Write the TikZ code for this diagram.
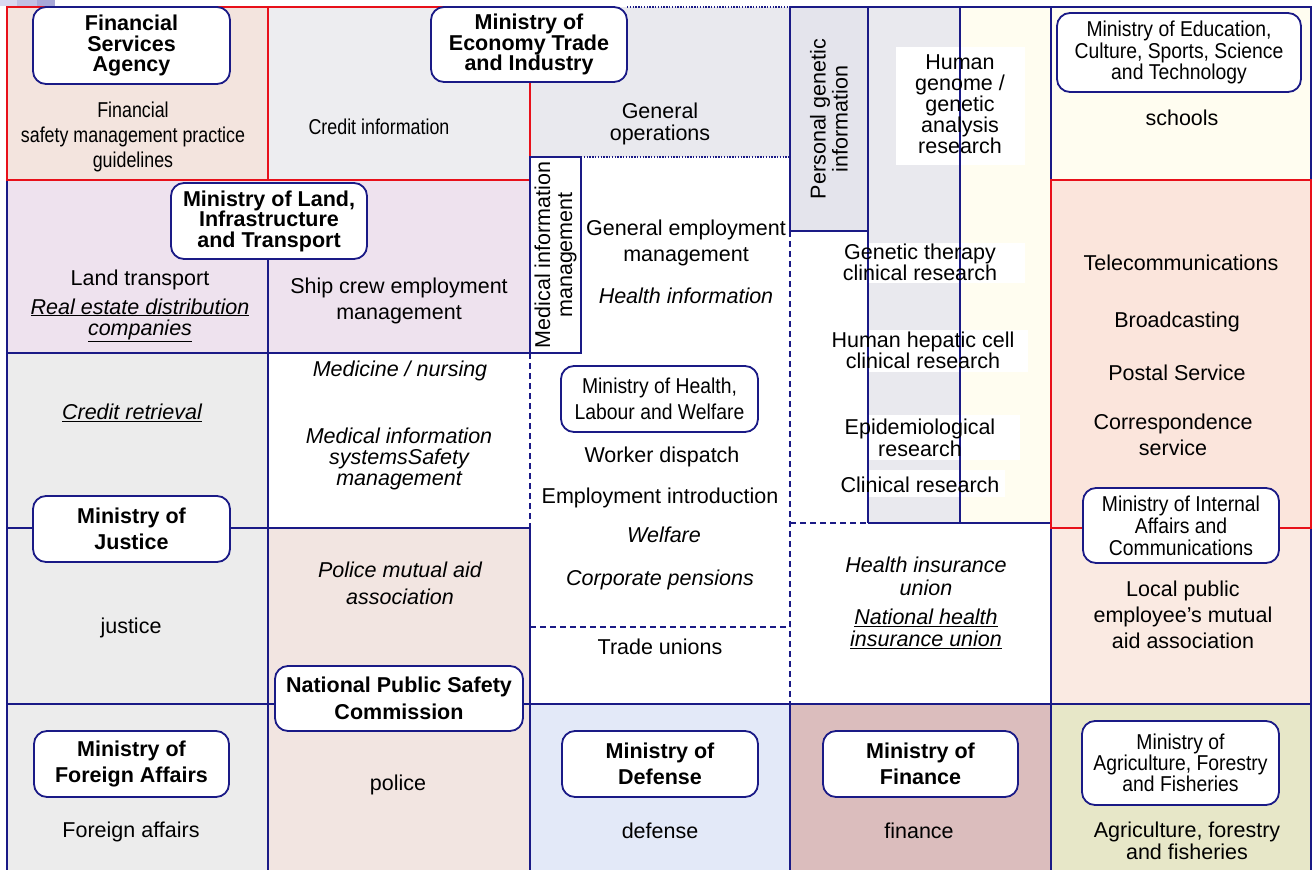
\documentclass[tikz,border=0pt]{standalone}
\usepackage{fontspec}
\setmainfont{Liberation Sans}
\newfontfamily\narrowA[FakeStretch=0.83]{Liberation Sans}
\newfontfamily\narrowB[FakeStretch=0.9]{Liberation Sans}
\definecolor{navy}{HTML}{1A1A86}
\definecolor{redb}{HTML}{E8101A}
\definecolor{cpeach}{HTML}{F3E4DE}
\definecolor{cgrayA}{HTML}{EDEDF0}
\definecolor{cgrayB}{HTML}{E9E9EE}
\definecolor{cgrayC}{HTML}{E4E4EC}
\definecolor{cgrayD}{HTML}{ECECEC}
\definecolor{cyellow}{HTML}{FFFDF0}
\definecolor{ctele}{HTML}{FBE5DC}
\definecolor{clocal}{HTML}{FAEAE2}
\definecolor{clav}{HTML}{EEE2EE}
\definecolor{cpolice}{HTML}{F2E5E1}
\definecolor{cdef}{HTML}{E3E9F8}
\definecolor{cfin}{HTML}{DBBDBD}
\definecolor{cagri}{HTML}{E7E7C8}
\definecolor{decoA}{HTML}{D8D8F0}
\definecolor{decoB}{HTML}{C0C0E4}
\definecolor{decoC}{HTML}{A8A8D8}
\tikzset{
  lbl/.style={align=center, inner sep=0pt, font=\fontsize{21.5}{21}\selectfont},
  lblbs/.style={align=center, inner sep=0pt, font=\fontsize{21.5}{#1}\selectfont},
  ital/.style={align=center, inner sep=0pt, font=\itshape\fontsize{21.5}{#1}\selectfont},
  narA/.style={align=center, inner sep=0pt, font=\narrowA\fontsize{21.5}{#1}\selectfont},
  ministry/.style={draw=navy, line width=1.8pt, rounded corners=13pt, fill=white,
    align=center, inner sep=0pt, font=\bfseries\fontsize{21.5}{#1}\selectfont},
  ministryN/.style={draw=navy, line width=1.8pt, rounded corners=13pt, fill=white,
    align=center, inner sep=0pt, font=\narrowB\fontsize{21.5}{#1}\selectfont},
  border/.style={draw=navy, line width=2pt},
  redline/.style={draw=redb, line width=2pt},
  dashline/.style={draw=navy, line width=1.6pt, dash pattern=on 6pt off 4pt},
  dotline/.style={draw=navy, line width=1.4pt, dash pattern=on 1.4pt off 1.4pt},
  vbox/.style={draw=navy, line width=2pt, rotate=90, align=center, inner sep=0pt,
    font=\fontsize{21.5}{22}\selectfont}
}
\begin{document}
\begin{tikzpicture}[x=1pt,y=-1pt]
\useasboundingbox (0,0) rectangle (1312,870);
\fill[white] (0,0) rectangle (1312,870);
% top-left decoration
\fill[decoA] (0,0) rectangle (17,6);
\fill[decoB] (17,0) rectangle (37,6);
\fill[decoC] (37,0) rectangle (55,6);
% cell fills
\fill[cpeach] (7,7) rectangle (268,180);
\fill[cgrayA] (268,7) rectangle (530,180);
\fill[cgrayB] (530,7) rectangle (790,157);
\fill[cgrayC] (790,7) rectangle (868,231);
\fill[cgrayB] (868,7) rectangle (960,523);
\fill[cyellow] (960,7) rectangle (1051,523);
\fill[cyellow] (1051,7) rectangle (1312,180);
\fill[ctele] (1051,180) rectangle (1312,528);
\fill[clocal] (1051,528) rectangle (1312,704);
\fill[clav] (7,180) rectangle (530,353);
\fill[cgrayD] (7,353) rectangle (268,528);
\fill[cgrayD] (7,528) rectangle (268,704);
\fill[cpolice] (268,528) rectangle (530,704);
\fill[cgrayD] (7,704) rectangle (268,872);
\fill[cpolice] (268,704) rectangle (530,872);
\fill[cdef] (530,704) rectangle (790,872);
\fill[cfin] (790,704) rectangle (1051,872);
\fill[cagri] (1051,704) rectangle (1312,872);
% white label backgrounds in the research column
\fill[white] (896,47) rectangle (1025,165);
\fill[white] (842,243) rectangle (1025,283);
\fill[white] (830,330) rectangle (1028,372);
\fill[white] (836,415) rectangle (1020,460);
\fill[white] (838,470) rectangle (1005,497);
% borders
\draw[border] (1051,7) rectangle (1311,180);
\draw[border] (1051,528) rectangle (1311,704);
\draw[border] (7,704) rectangle (268,872);
\draw[border] (268,704) rectangle (530,872);
\draw[border] (530,704) rectangle (790,872);
\draw[border] (790,704) rectangle (1051,872);
\draw[border] (1051,704) rectangle (1311,872);
\draw[border] (7,180) rectangle (530,353);
\draw[border] (268,259) -- (268,353);
\draw[border] (7,353) rectangle (268,528);
\draw[border] (7,528) rectangle (268,704);
\draw[border] (268,528) rectangle (530,704);
\draw[border] (868,7) -- (868,523);
\draw[border] (960,7) -- (960,523);
\draw[border] (790,7) -- (1051,7);
\draw[border] (868,523) -- (1051,523) -- (1051,528);
\draw[border] (530,704) -- (1051,704);
\draw[dashline] (790,523) -- (868,523);
\draw[dashline] (790,229) -- (868,229);
\draw[dashline] (790,231) -- (790,704);
\draw[dashline] (530,353) -- (530,528);
\draw[dashline] (530,627) -- (790,627);
\draw[dotline] (627,7) -- (790,7);
\draw[dotline] (581,157) -- (790,157);
\draw[redline] (1051,180) rectangle (1311,528);
\draw[redline] (7,7) rectangle (268,180);
\draw[redline] (268,7) -- (530,7);
\draw[redline] (530,82) -- (530,180);
\draw[redline] (268,180) -- (530,180);
% rotated boxes
\node[vbox, fill=cgrayC, minimum width=224pt, minimum height=78pt] (pgi) at (829,119) {Personal genetic\\information};
\node[vbox, fill=white, minimum width=196pt, minimum height=51pt] (mim) at (555.5,255) {Medical information\\management};
% ministry boxes
\node[ministry=20.5, minimum width=197pt, minimum height=77pt] (fsa) at (131.5,45.5) {Financial\\Services\\Agency};
\node[ministry=20.5, minimum width=196pt, minimum height=75pt] (meti) at (529,44.5) {Ministry of\\Economy Trade\\and Industry};
\node[ministryN=21.5, minimum width=244pt, minimum height=79pt] (mext) at (1179,52.5) {Ministry of Education,\\Culture, Sports, Science\\and Technology};
\node[ministry=20.5, minimum width=196pt, minimum height=76pt] (mlit) at (269,221) {Ministry of Land,\\Infrastructure\\and Transport};
\node[ministryN=26, minimum width=197pt, minimum height=66pt] (mhlw) at (659.5,399) {Ministry of Health,\\Labour and Welfare};
\node[ministryN=22, minimum width=196pt, minimum height=75pt] (mic) at (1181,525.5) {Ministry of Internal\\Affairs and\\Communications};
\node[ministry=26, minimum width=197pt, minimum height=66pt] (moj) at (131.5,529) {Ministry of\\Justice};
\node[ministry=27, minimum width=248pt, minimum height=65pt] (npsc) at (399,698.5) {National Public Safety\\Commission};
\node[ministry=26, minimum width=195pt, minimum height=66pt] (mofa) at (131.5,764) {Ministry of\\Foreign Affairs};
\node[ministry=26, minimum width=196pt, minimum height=66pt] (mod) at (660,764) {Ministry of\\Defense};
\node[ministry=26, minimum width=195pt, minimum height=66pt] (mof) at (920.5,764) {Ministry of\\Finance};
\node[ministryN=21, minimum width=197pt, minimum height=84pt] (maff) at (1180.5,763) {Ministry of\\Agriculture, Forestry\\and Fisheries};
% texts
\node[narA=25] (tfsaguide) at (133,137) {Financial\\safety management practice\\guidelines};
\node[narA=21] (tcredit) at (379,127) {Credit information};
\node[lblbs=22] (tgenops) at (660,124) {General\\operations};
\node[lblbs=21] (tgenome) at (960,104.5) {Human\\genome /\\genetic\\analysis\\research};
\node[lbl] (tschools) at (1182,118) {schools};
\node[lbl] (tland) at (140,280) {Land transport};
\node[ital=21] (treal) at (140,320) {\underline{Real estate distribution}\\\underline{companies}};
\node[lblbs=26] (tship) at (399,301) {Ship crew employment\\management};
\node[lblbs=26] (tgenemp) at (686,243) {General employment\\management};
\node[ital=21] (thealth) at (686,296) {Health information};
\node[lblbs=20] (tgenther) at (920,262) {Genetic therapy\\clinical research};
\node[lbl] (ttele) at (1181,263) {Telecommunications};
\node[lbl] (tbroad) at (1177,322) {Broadcasting};
\node[lbl] (tpostal) at (1177,373) {Postal Service};
\node[lblbs=26] (tcorr) at (1173,435) {Correspondence\\service};
\node[ital=21] (tmedicine) at (400,371) {Medicine / nursing};
\node[ital=21] (tmedsys) at (399,459) {Medical information\\systemsSafety\\management};
\node[ital=21] (tcreditret) at (132,413) {\underline{Credit retrieval}};
\node[lblbs=21] (thepatic) at (923,350.5) {Human hepatic cell\\clinical research};
\node[lbl] (tworker) at (662,457) {Worker dispatch};
\node[lbl] (tempintro) at (660,498) {Employment introduction};
\node[ital=21] (twelfare) at (664,535) {Welfare};
\node[ital=21] (tcorp) at (660,580) {Corporate pensions};
\node[lbl] (ttrade) at (660,647) {Trade unions};
\node[lblbs=22] (tepi) at (920,438) {Epidemiological\\research};
\node[lbl] (tclin) at (920,485) {Clinical research};
\node[lblbs=26] (tlocal) at (1183,615) {Local public\\employee’s mutual\\aid association};
\node[lbl] (tjustice) at (131,628) {justice};
\node[ital=27] (tpolicemut) at (400,583.5) {Police mutual aid\\association};
\node[ital=23] (thiu) at (926,576.5) {Health insurance\\union};
\node[ital=22] (tnhiu) at (926,629) {\underline{National health}\\\underline{insurance union}};
\node[lbl] (tforeign) at (131,832) {Foreign affairs};
\node[lbl] (tpolice) at (398,785) {police};
\node[lbl] (tdefense) at (660,831) {defense};
\node[lbl] (tfinance) at (919,831) {finance};
\node[lblbs=22] (tagri) at (1187,841) {Agriculture, forestry\\and fisheries};
\end{tikzpicture}
\end{document}
